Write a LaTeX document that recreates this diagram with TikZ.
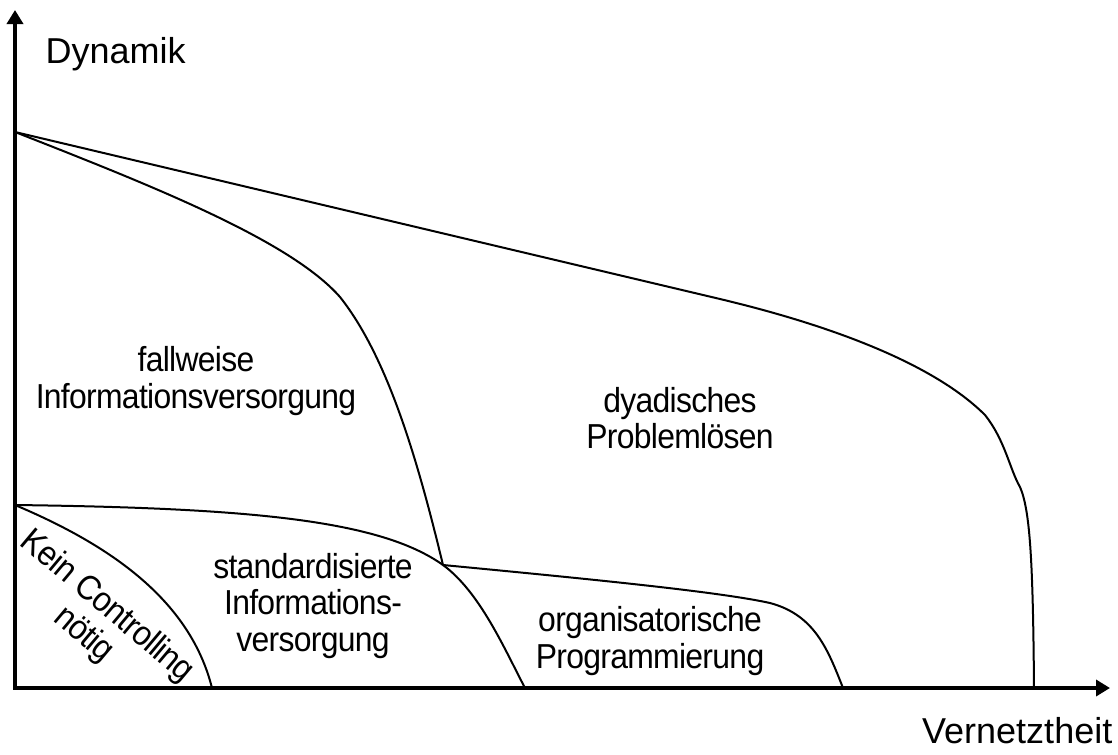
\documentclass[tikz,border=0pt]{standalone}
\usepackage{fontspec}
\setmainfont{Liberation Sans}[FakeStretch=0.92,LetterSpace=-2]
\newfontfamily\axisfont{Liberation Sans}
\usetikzlibrary{arrows.meta,positioning,calc}

\begin{document}
\begin{tikzpicture}[x=0.75pt,y=-0.75pt,
  axis/.style={line width=3.2pt,{Triangle[length=10.5pt,width=12pt]}-{Triangle[length=10.5pt,width=12pt]}},
  border/.style={line width=1.5pt},
  area/.style={align=center,font=\fontsize{26}{27.5}\selectfont},
  axislabel/.style={font=\axisfont\fontsize{27}{29}\selectfont}]

\useasboundingbox (0,0) rectangle (1118,754);

\coordinate (origin) at (15,688);
\coordinate (ytip) at (15,10);
\coordinate (xtip) at (1110,688);
\coordinate (top) at (15,132);
\coordinate (low) at (15,505);
\coordinate (cross) at (443,565);
\coordinate (endkein) at (212,688);
\coordinate (endstandard) at (525,688);
\coordinate (endorg) at (843,688);
\coordinate (enddyad) at (1034,688);

% axes
\draw[axis] (ytip) -- (origin) -- (xtip);

% region borders
\draw[border] (top) -- (720,299) .. controls (850,330) and (940,370) .. (985,415)
  .. controls (1005,440) and (1010,470) .. (1020,487)
  .. controls (1030,510) and (1033,560) .. (enddyad);
\draw[border] (top) .. controls (150,185) and (290,240) .. (340,297)
  .. controls (390,360) and (420,470) .. (cross);
\draw[border] (low) .. controls (250,508) and (380,520) .. (cross)
  .. controls (480,592) and (505,650) .. (endstandard);
\draw[border] (cross) .. controls (600,580) and (720,592) .. (770,603)
  .. controls (815,615) and (828,650) .. (endorg);
\draw[border] (low) .. controls (110,545) and (190,600) .. (endkein);

% labels
\node[axislabel,anchor=base west] (dynamik) at (41,63) {Dynamik};
\node[axislabel,anchor=base east] (vernetzt) at (1117,743) {Vernetztheit};
\node[area] (fallweise) at (196,381) {fallweise\\Informationsversorgung};
\node[area] (dyadisch) at (680,418) {dyadisches\\Problemlösen};
\node[area] (standard) at (313,606) {standardisierte\\Informations-\\versorgung};
\node[area] (organisation) at (650,641) {organisatorische\\Programmierung};
\node[area,rotate=-40] (kein) at (95,621) {Kein Controlling\\nötig};

\end{tikzpicture}
\end{document}
